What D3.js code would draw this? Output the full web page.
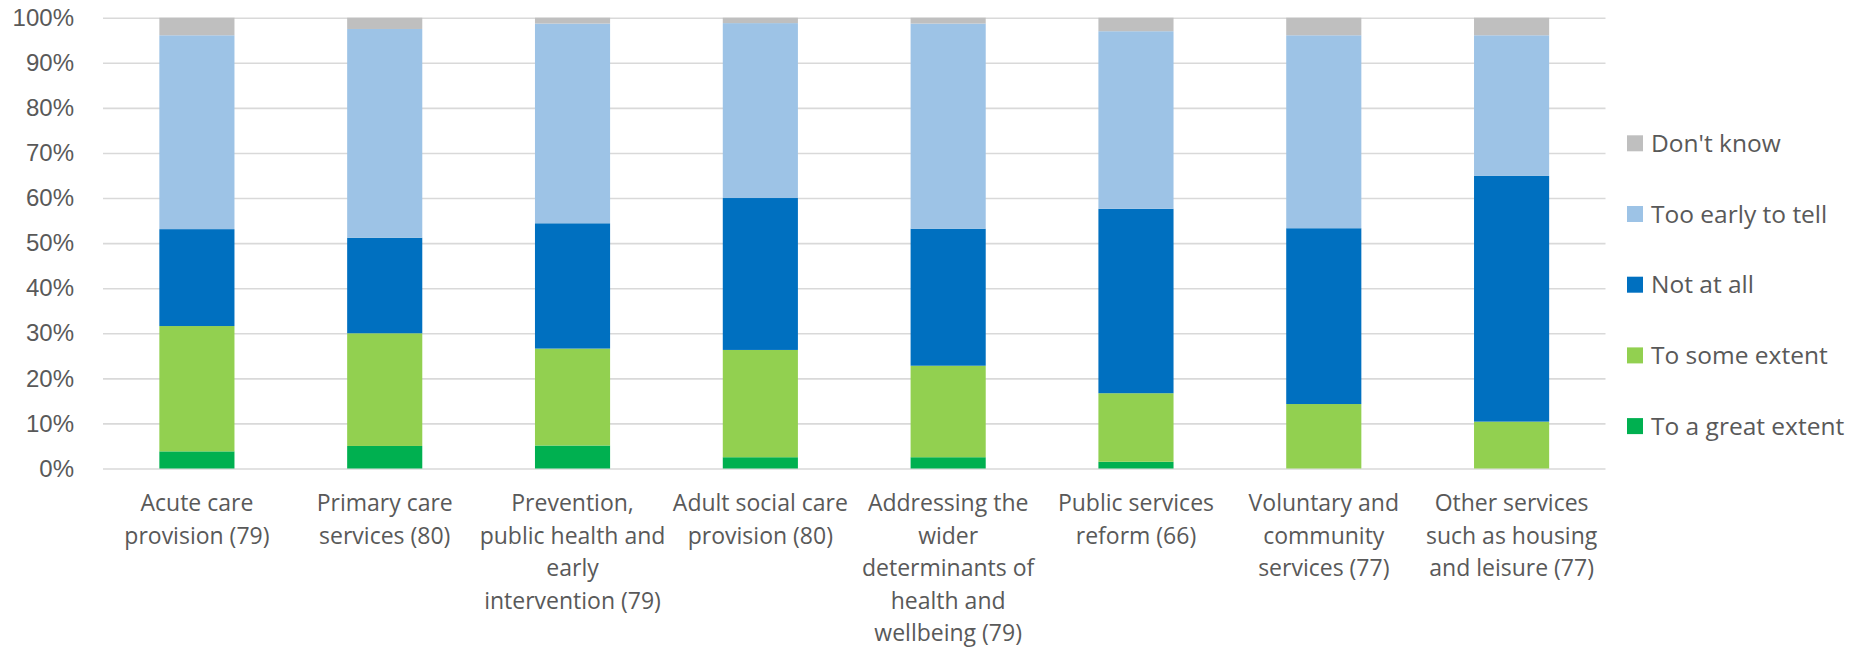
<!DOCTYPE html>
<html>
<head>
<meta charset="utf-8">
<script src="https://cdn.jsdelivr.net/npm/d3@7"></script>
<style>
  body { margin: 0; background: #fff; }
  svg { display: block; font-family: 'Open Sans', sans-serif; }
</style>
</head>
<body>
<svg width="1875" height="647"></svg>
<script>
'use strict'

// categories, each split into the lines it wraps to
const categories = [
  ['Acute care', 'provision (79)'],
  ['Primary care', 'services (80)'],
  ['Prevention,', 'public health and', 'early', 'intervention (79)'],
  ['Adult social care', 'provision (80)'],
  ['Addressing the', 'wider', 'determinants of', 'health and', 'wellbeing (79)'],
  ['Public services', 'reform (66)'],
  ['Voluntary and', 'community', 'services (77)'],
  ['Other services', 'such as housing', 'and leisure (77)']
];

// percentages, bottom to top
const greatExtent = [3.8, 5.0, 5.1, 2.5, 2.5, 1.5, 0, 0];
const someExtent  = [27.8, 25.0, 21.5, 23.8, 20.3, 15.2, 14.3, 10.4];
const notAtAll    = [21.5, 21.2, 27.8, 33.7, 30.4, 40.9, 39.0, 54.5];
const tooEarly    = [43.0, 46.3, 44.3, 38.8, 45.5, 39.4, 42.8, 31.2];
const dontKnow    = [3.9, 2.5, 1.3, 1.2, 1.3, 3.0, 3.9, 3.9];

const seriesNames = ['To a great extent', 'To some extent', 'Not at all', 'Too early to tell', "Don't know"];
const seriesValues = [greatExtent, someExtent, notAtAll, tooEarly, dontKnow];
const colors = ['#00b050', '#92d050', '#0070c0', '#9dc3e6', '#bfbfbf'];

const yTicks = [0, 10, 20, 30, 40, 50, 60, 70, 80, 90, 100];

const TEXT = '#595959';
const svg = d3.select('svg');

const plotLeft = 103, plotRight = 1605.5, plotTop = 17.7, plotBottom = 468.5;

const rows = categories.map((c, i) => {
  const r = { idx: i };
  seriesNames.forEach((s, j) => { r[s] = seriesValues[j][i]; });
  return r;
});

const x = d3.scaleBand()
  .domain(d3.range(categories.length))
  .range([plotLeft, plotRight])
  .paddingInner(0.6)
  .paddingOuter(0.3);

const y = d3.scaleLinear().domain([0, 100]).range([plotBottom, plotTop]);

// gridlines + y labels
const yAxis = svg.append('g')
  .attr('transform', `translate(${plotLeft},0)`)
  .call(d3.axisLeft(y).tickValues(yTicks).tickSize(-(plotRight - plotLeft)).tickFormat(d => d + '%'));
yAxis.select('.domain').remove();
yAxis.selectAll('.tick line').attr('stroke', '#d9d9d9').attr('stroke-width', 1.6);
yAxis.selectAll('.tick text')
  .attr('x', -29)
  .attr('fill', TEXT)
  .style('font-size', '24px');

const stack = d3.stack().keys(seriesNames)(rows);

svg.append('g')
  .selectAll('g')
  .data(stack)
  .join('g')
  .attr('fill', (d, i) => colors[i])
  .selectAll('rect')
  .data(d => d)
  .join('rect')
  .attr('x', d => x(d.data.idx))
  .attr('width', x.bandwidth())
  .attr('y', d => y(d[1]))
  .attr('height', d => y(d[0]) - y(d[1]));

// category labels
const xLabels = svg.append('g')
  .selectAll('text')
  .data(categories)
  .join('text')
  .attr('text-anchor', 'middle')
  .attr('fill', TEXT)
  .style('font-size', '23px')
  .attr('transform', (d, i) => `translate(${x(i) + x.bandwidth() / 2},503)`);

xLabels.selectAll('tspan')
  .data(d => d)
  .join('tspan')
  .attr('x', 0)
  .attr('y', (d, i) => i * 32.5)
  .attr('dy', '0.35em')
  .text(d => d);

// legend, top entry is the top of the stack
const legendOrder = d3.range(seriesNames.length).reverse();
const legend = svg.append('g')
  .selectAll('g')
  .data(legendOrder)
  .join('g')
  .attr('transform', (d, i) => `translate(1627,${143.3 + i * 70.7})`);

legend.append('rect')
  .attr('y', -8)
  .attr('width', 16)
  .attr('height', 16)
  .attr('fill', d => colors[d]);

legend.append('text')
  .attr('x', 24)
  .attr('dy', '0.35em')
  .attr('fill', TEXT)
  .style('font-size', '24.5px')
  .text(d => seriesNames[d]);
</script>
</body>
</html>
